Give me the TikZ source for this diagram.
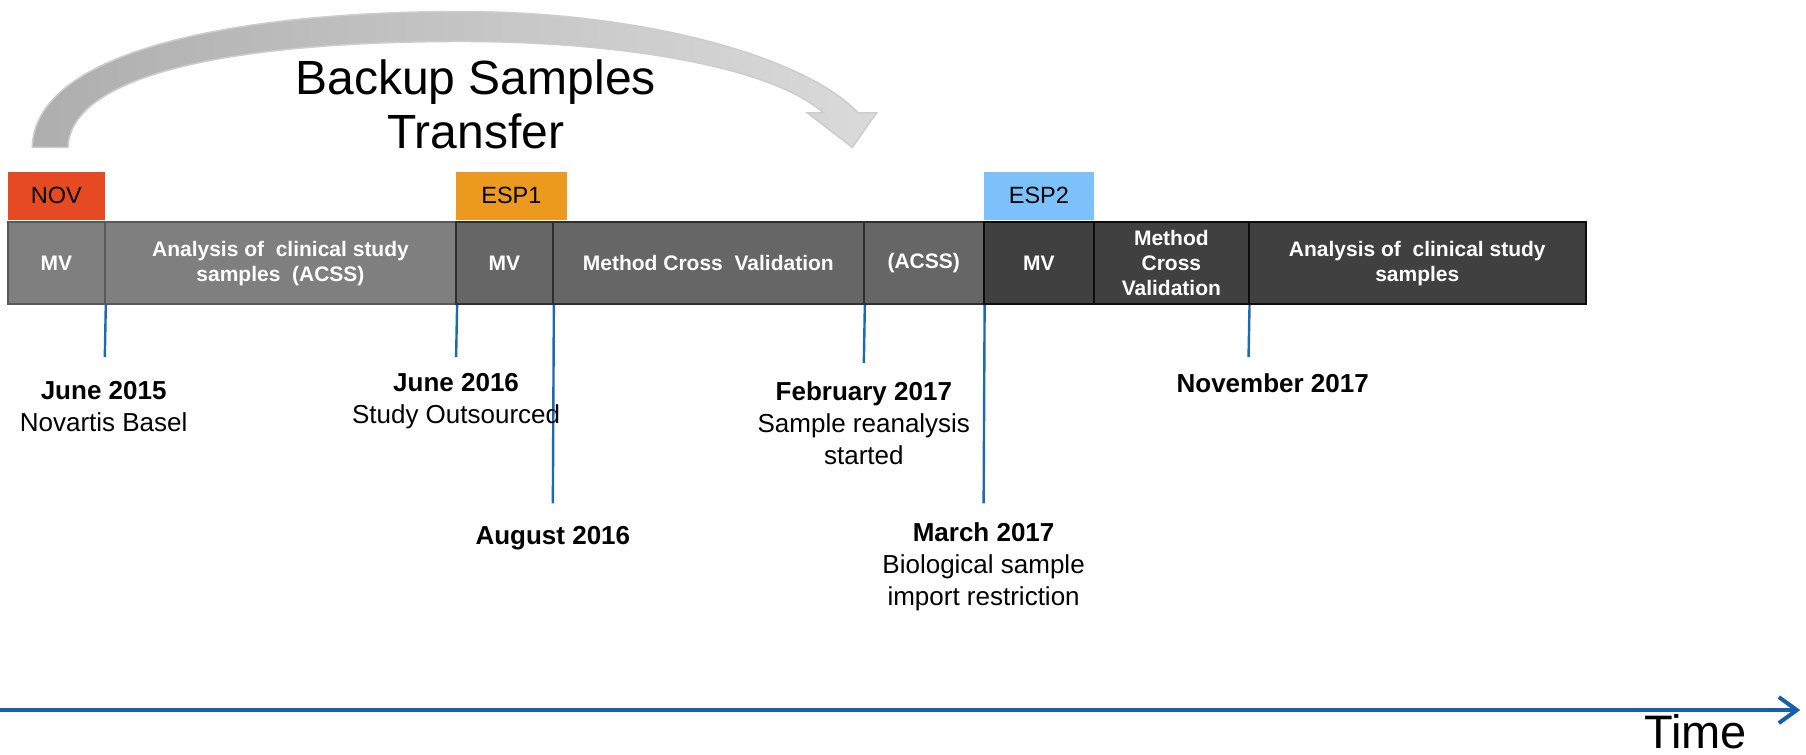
\documentclass[tikz,border=0pt]{standalone}
\usepackage{fontspec}
\setmainfont{Liberation Sans}
\usetikzlibrary{arrows.meta}
\definecolor{novc}{HTML}{E64A22}
\definecolor{esp1c}{HTML}{EC9A1F}
\definecolor{esp2c}{HTML}{7DC1FA}
\definecolor{g1}{HTML}{7F7F7F}
\definecolor{g1d}{HTML}{595959}
\definecolor{g2}{HTML}{666666}
\definecolor{g2d}{HTML}{2E2E2E}
\definecolor{g3}{HTML}{404040}
\definecolor{g3d}{HTML}{0D0D0D}
\definecolor{tickc}{HTML}{1C6AB1}
\definecolor{timec}{HTML}{1560AA}
\definecolor{arrL}{HTML}{AEAEAE}
\definecolor{arrR}{HTML}{DADADA}
\definecolor{arrE}{HTML}{CDCDCD}
\begin{document}
\begin{tikzpicture}[x=1.1518pt,y=-1.1518pt,
  seg/.style={line width=2pt, minimum height=71*1.1518pt, inner sep=0pt, text=white,
    font=\fontsize{21}{25}\selectfont\bfseries, align=center},
  segA/.style={seg, fill=g1, draw=g1d},
  segB/.style={seg, fill=g2, draw=g2d},
  segC/.style={seg, fill=g3, draw=g3d},
  tagbox/.style={minimum height=42*1.1518pt, inner sep=0pt, font=\fontsize{23.5}{28}\selectfont},
  tick/.style={draw=tickc, line width=2.4pt},
  lbl/.style={anchor=north, inner sep=0pt, align=center, font=\fontsize{26}{32}\selectfont},
  big/.style={anchor=north, inner sep=0pt, align=center, font=\fontsize{48}{54}\selectfont}]
\useasboundingbox (0,0) rectangle (1568,655);

% curved arrow
\path[left color=arrL, right color=arrR, draw=arrE, line width=1.5pt]
  (28,128) .. controls (30,40) and (220,10) .. (400,10)
  .. controls (560,10) and (700,50) .. (745,98)
  -- (761,98) -- (740,128) -- (701,98) -- (715,98)
  .. controls (670,58) and (540,36) .. (400,36)
  .. controls (230,36) and (62,58) .. (59,128) -- cycle;
\node[big] (title) at (413,52) {Backup Samples\\Transfer};

% tags
\node[tagbox, fill=novc, minimum width=84*1.1518pt] (nov) at (49,170) {NOV};
\node[tagbox, fill=esp1c, minimum width=96*1.1518pt] (esp1) at (444,170) {ESP1};
\node[tagbox, fill=esp2c, minimum width=96*1.1518pt] (esp2) at (902,170) {ESP2};

% bar segments
\node[segA, minimum width=84*1.1518pt] (mv1) at (49,228.5) {MV};
\node[segA, minimum width=305*1.1518pt] (acss1) at (243.5,228.5) {Analysis of\ \ clinical study\\samples\ \ (ACSS)};
\node[segB, minimum width=84*1.1518pt] (mv2) at (438,228.5) {MV};
\node[segB, minimum width=270*1.1518pt] (mcv1) at (615,228.5) {Method Cross\ \ Validation};
\node[segB, minimum width=104*1.1518pt] (acss2) at (802,228.5) {(ACSS)};
\node[segC, minimum width=96*1.1518pt] (mv3) at (902,228.5) {MV};
\node[segC, minimum width=134*1.1518pt] (mcv2) at (1017,228.5) {Method\\Cross\\Validation};
\node[segC, minimum width=293*1.1518pt] (acss3) at (1230.5,228.5) {Analysis of\ \ clinical study\\samples};

% tick ends
\coordinate (t1) at (91,310);
\coordinate (t2) at (396,310);
\coordinate (t3) at (480,437);
\coordinate (t4) at (750,315);
\coordinate (t5) at (854,437);
\coordinate (t6) at (1084,310);
\draw[tick] (mv1.south east) -- (t1);
\draw[tick] (acss1.south east) -- (t2);
\draw[tick] (mv2.south east) -- (t3);
\draw[tick] (mcv1.south east) -- (t4);
\draw[tick] (acss2.south east) -- (t5);
\draw[tick] (mcv2.south east) -- (t6);

% labels
\node[lbl] (l1) at (90,331) {\textbf{June 2015}\\Novartis Basel};
\node[lbl] (l2) at (396,324) {\textbf{June 2016}\\Study Outsourced};
\node[lbl] (l3) at (480,457) {\textbf{August 2016}};
\node[lbl] (l4) at (750,331) {\textbf{February 2017}\\Sample reanalysis\\started};
\node[lbl] (l5) at (854,454) {\textbf{March 2017}\\Biological sample\\import restriction};
\node[lbl] (l6) at (1105,324) {\textbf{November 2017}};

% time axis
\coordinate (ts) at (0,616.5);
\coordinate (te) at (1563,616.5);
\draw[draw=timec, line width=4pt, -{Straight Barb[length=18pt,width=26pt]}] (ts) -- (te);
\node[big, font=\fontsize{47}{54}\selectfont] (time) at (1472,620.5) {Time};
\end{tikzpicture}
\end{document}
